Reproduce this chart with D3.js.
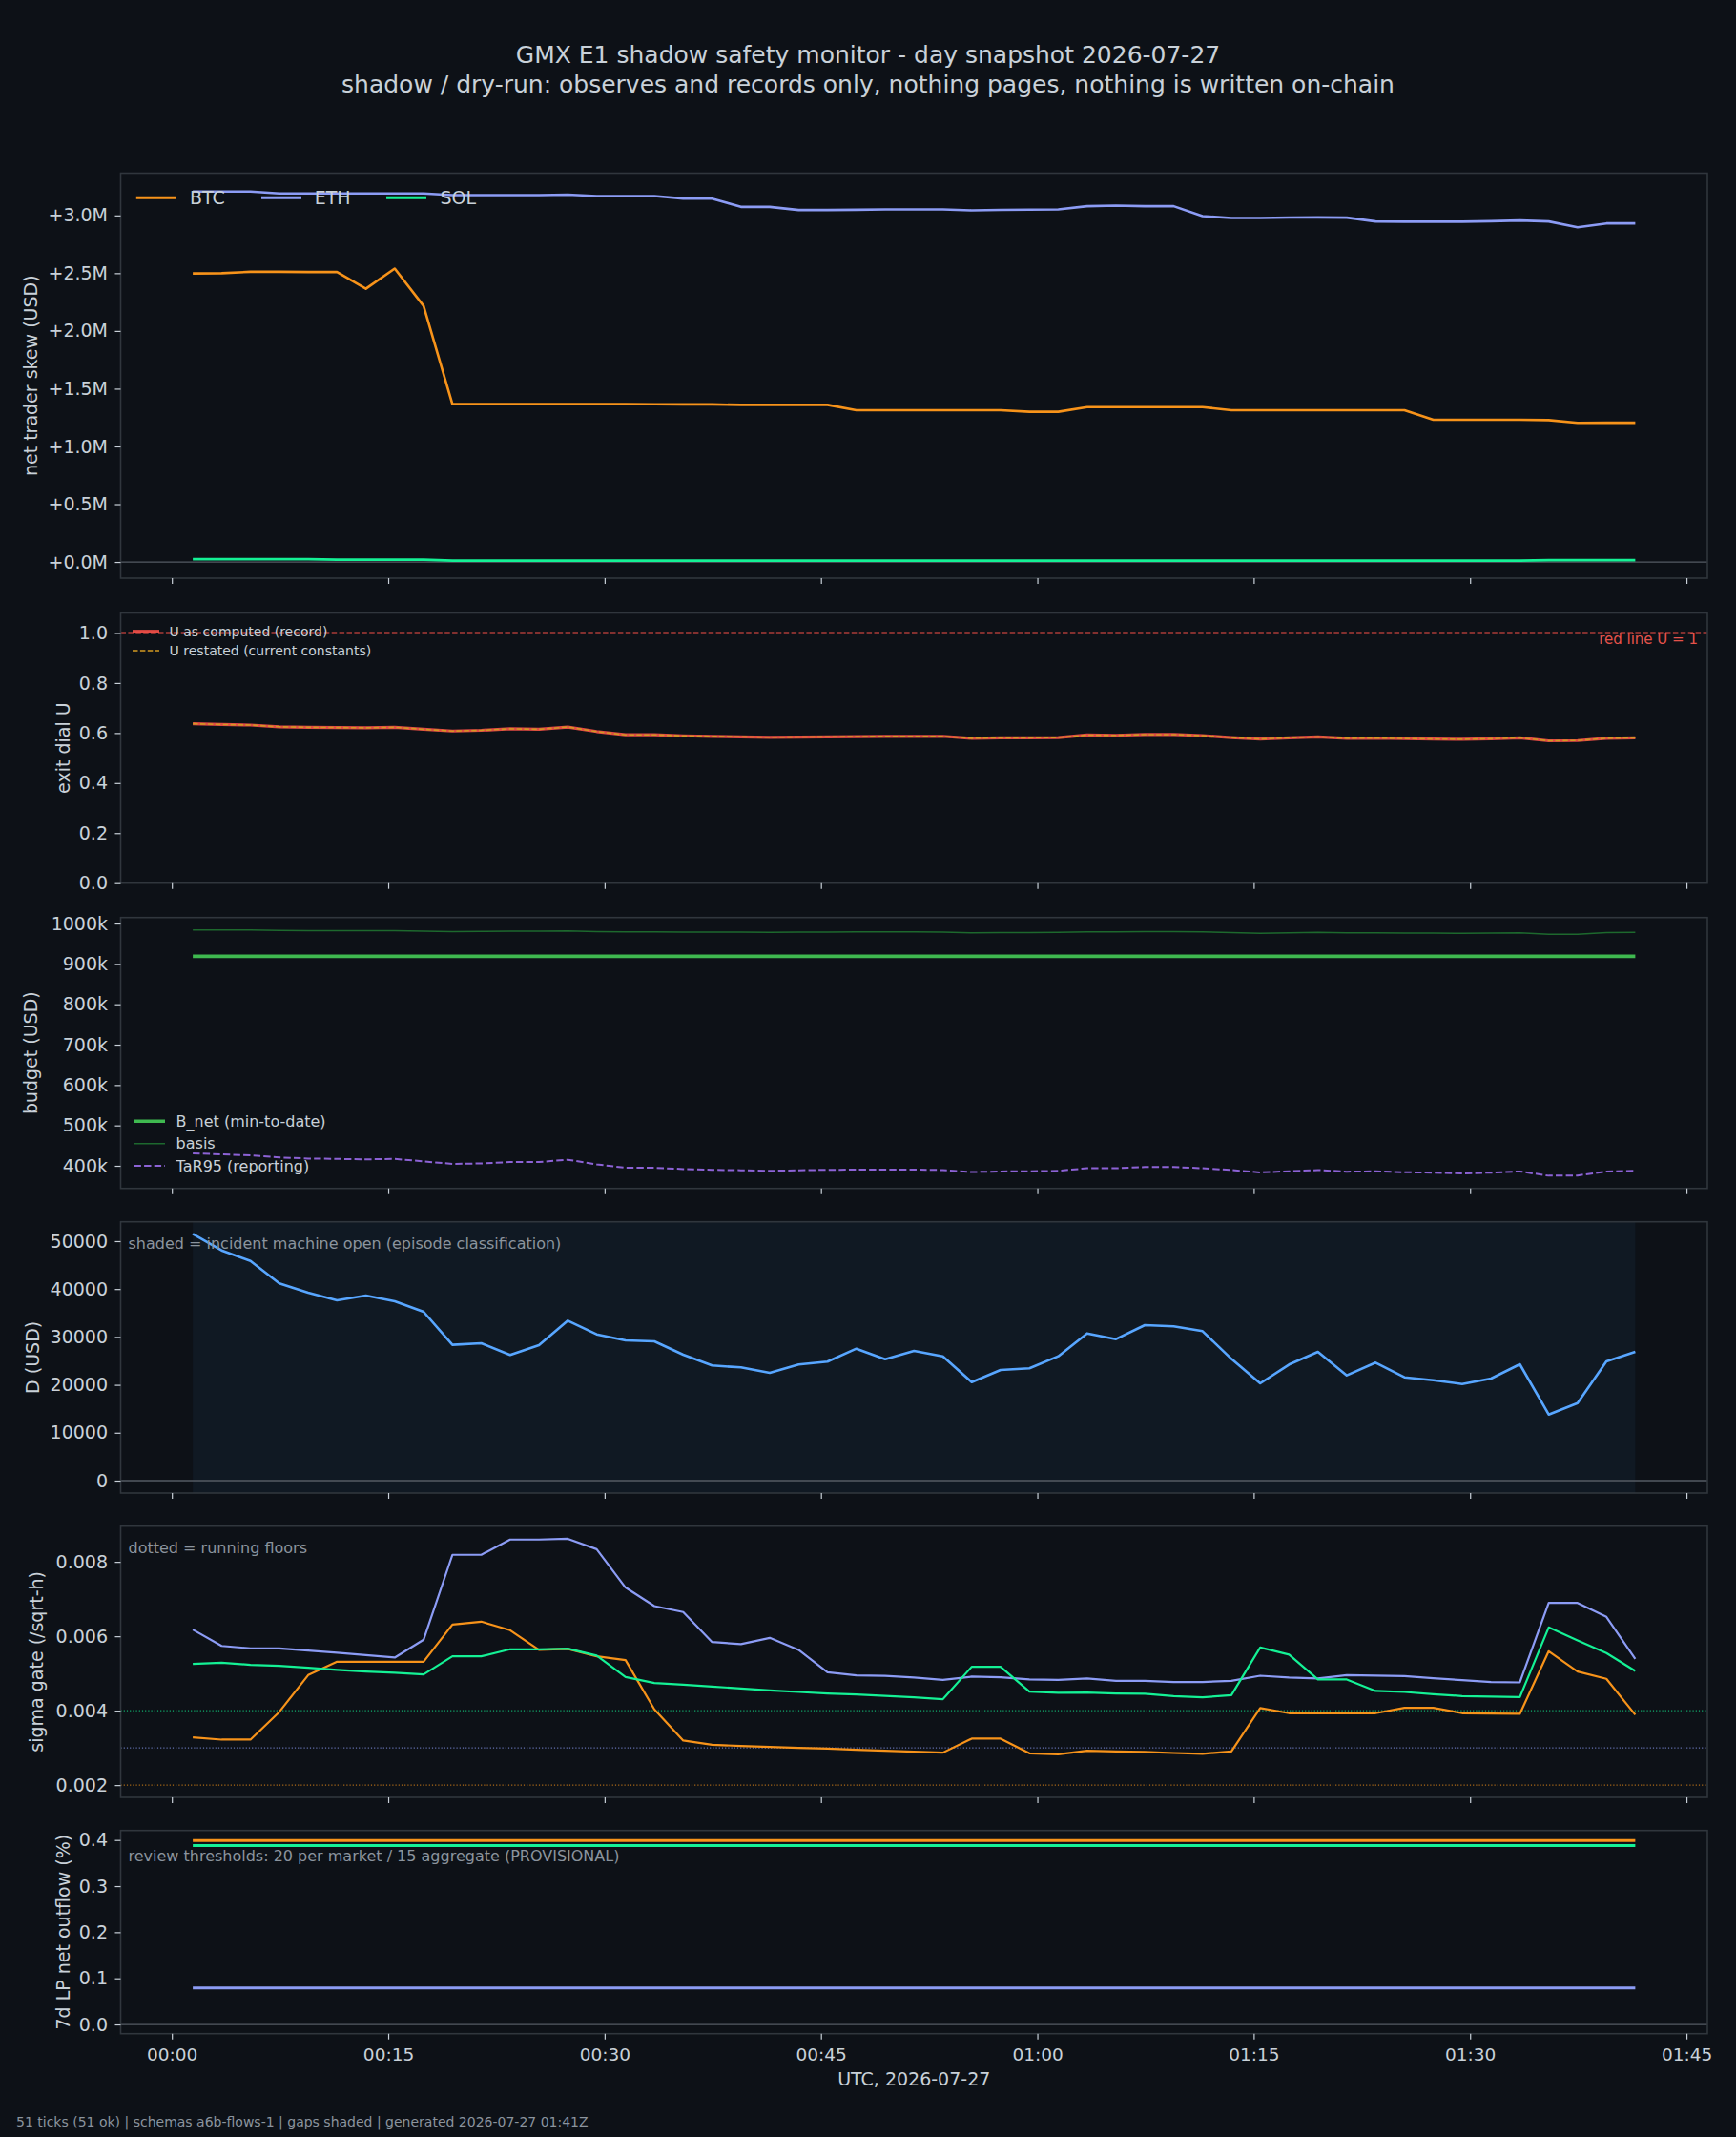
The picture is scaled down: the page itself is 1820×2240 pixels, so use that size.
<!DOCTYPE html>
<html>
<head>
<meta charset="utf-8">
<script src="https://cdn.jsdelivr.net/npm/d3@7"></script>
<style>
  body { margin: 0; background: #0d1117; }
  svg text { font-family: "DejaVu Sans", sans-serif; }
</style>
</head>
<body>
<svg id="chart"></svg>
<script>
// ---- data (51 ticks, 2026-07-27 UTC) ----
const tickTimes = [
  "00:01:27","00:03:27","00:05:27","00:07:27","00:09:27","00:11:27","00:13:27","00:15:27","00:17:27","00:19:27",
  "00:21:27","00:23:27","00:25:27","00:27:27","00:29:27","00:31:27","00:33:27","00:35:27","00:37:27","00:39:27",
  "00:41:27","00:43:27","00:45:27","00:47:27","00:49:27","00:51:27","00:53:27","00:55:27","00:57:27","00:59:27",
  "01:01:27","01:03:27","01:05:27","01:07:27","01:09:27","01:11:27","01:13:27","01:15:27","01:17:27","01:19:27",
  "01:21:27","01:23:27","01:25:27","01:27:27","01:29:27","01:31:27","01:33:27","01:35:27","01:37:27","01:39:27",
  "01:41:27"
];

// net trader skew, USD millions
const skewBTC = [
  2.498, 2.500, 2.512, 2.512, 2.510, 2.510, 2.366, 2.540, 2.217, 1.366,
  1.366, 1.366, 1.366, 1.367, 1.366, 1.366, 1.365, 1.364, 1.364, 1.360,
  1.360, 1.360, 1.360, 1.314, 1.314, 1.314, 1.314, 1.314, 1.314, 1.300,
  1.300, 1.341, 1.341, 1.341, 1.341, 1.341, 1.314, 1.314, 1.314, 1.314,
  1.314, 1.314, 1.314, 1.231, 1.231, 1.231, 1.231, 1.228, 1.204, 1.205,
  1.205
];
const skewETH = [
  3.207, 3.207, 3.207, 3.190, 3.190, 3.190, 3.190, 3.190, 3.190, 3.176,
  3.176, 3.176, 3.176, 3.180, 3.168, 3.168, 3.168, 3.146, 3.146, 3.074,
  3.074, 3.047, 3.047, 3.049, 3.052, 3.052, 3.052, 3.044, 3.048, 3.050,
  3.052, 3.080, 3.085, 3.080, 3.080, 2.994, 2.978, 2.978, 2.982, 2.983,
  2.981, 2.948, 2.946, 2.946, 2.946, 2.950, 2.956, 2.948, 2.898, 2.931,
  2.931
];
const skewSOL = [
  0.024, 0.024, 0.024, 0.024, 0.024, 0.020, 0.020, 0.020, 0.020, 0.012,
  0.012, 0.012, 0.012, 0.012, 0.012, 0.012, 0.012, 0.012, 0.012, 0.012,
  0.012, 0.012, 0.012, 0.012, 0.012, 0.012, 0.012, 0.012, 0.012, 0.012,
  0.012, 0.012, 0.012, 0.012, 0.012, 0.012, 0.012, 0.012, 0.012, 0.012,
  0.012, 0.012, 0.012, 0.012, 0.012, 0.012, 0.012, 0.016, 0.016, 0.016,
  0.016
];
const skewTicks = [0, 0.5, 1.0, 1.5, 2.0, 2.5, 3.0];

// exit dial U (record == restated)
const exitDialU = [
  0.637, 0.634, 0.632, 0.625, 0.623, 0.622, 0.621, 0.623, 0.615, 0.608,
  0.611, 0.617, 0.615, 0.624, 0.606, 0.593, 0.593, 0.589, 0.587, 0.585,
  0.583, 0.584, 0.585, 0.586, 0.587, 0.587, 0.587, 0.579, 0.581, 0.581,
  0.582, 0.592, 0.591, 0.594, 0.594, 0.590, 0.582, 0.576, 0.581, 0.585,
  0.579, 0.580, 0.578, 0.576, 0.575, 0.577, 0.581, 0.569, 0.570, 0.579,
  0.581
];
const redLineU = 1.0;
const uTicks = [0, 0.2, 0.4, 0.6, 0.8, 1.0];

// budget, USD thousands
const bNetMinToDate = 919;
const budgetBasis = [
  984.2, 984.2, 984.0, 983.0, 982.6, 982.4, 982.2, 982.4, 981.5, 980.2,
  980.4, 981.0, 981.0, 982.0, 980.0, 979.4, 979.4, 979.0, 978.8, 978.6,
  978.4, 978.6, 978.8, 979.2, 979.2, 979.2, 979.0, 976.8, 977.4, 977.6,
  978.0, 979.4, 979.4, 979.8, 979.8, 979.2, 977.8, 975.8, 977.0, 978.0,
  976.8, 977.2, 976.6, 976.2, 975.8, 976.4, 977.2, 973.6, 973.8, 977.8,
  978.4
];
const tar95 = [
  430.7, 428.3, 426.0, 420.5, 418.0, 417.0, 416.0, 417.0, 411.0, 404.7,
  406.0, 409.4, 409.4, 415.0, 403.5, 395.0, 395.0, 392.0, 390.0, 389.0,
  387.5, 389.0, 390.0, 390.5, 390.5, 390.5, 389.5, 384.5, 386.0, 386.5,
  387.5, 394.0, 394.0, 397.0, 397.0, 394.0, 389.5, 383.5, 386.5, 389.5,
  385.5, 386.5, 384.0, 383.0, 381.0, 383.0, 386.0, 375.5, 376.0, 386.0,
  387.5
];
const budgetTicks = [400, 500, 600, 700, 800, 900, 1000];

// D, USD
const dUsd = [
  51530, 48070, 45880, 41170, 39240, 37650, 38650, 37450, 35260, 28350,
  28690, 26230, 28290, 33400, 30540, 29280, 29080, 26300, 24040, 23640,
  22510, 24240, 24840, 27550, 25360, 27090, 25960, 20580, 23110, 23440,
  25960, 30740, 29540, 32470, 32210, 31210, 25430, 20320, 24240, 26890,
  21980, 24640, 21570, 20980, 20180, 21310, 24300, 13800, 16200, 24900,
  26890
];
const incidentOpen = ["00:01:27", "01:41:27"];
const dTicks = [0, 10000, 20000, 30000, 40000, 50000];

// sigma gate, /sqrt-h
const sigmaBTC = [
  0.003282, 0.003222, 0.003222, 0.003967, 0.004957, 0.005316, 0.005316, 0.005316, 0.005316, 0.006316,
  0.006393, 0.006162, 0.005633, 0.005659, 0.005462, 0.005359, 0.004034, 0.003197, 0.003085, 0.003051,
  0.003026, 0.003000, 0.002983, 0.002949, 0.002925, 0.002897, 0.002872, 0.003249, 0.003249, 0.002855,
  0.002829, 0.002923, 0.002906, 0.002889, 0.002863, 0.002838, 0.002906, 0.004069, 0.003932, 0.003932,
  0.003932, 0.003932, 0.004077, 0.004077, 0.003932, 0.003923, 0.003915, 0.005598, 0.005051, 0.004855,
  0.003890
];
const sigmaETH = [
  0.006180, 0.005740, 0.005675, 0.005675, 0.005615, 0.005556, 0.005495, 0.005428, 0.005906, 0.008190,
  0.008190, 0.008600, 0.008600, 0.008620, 0.008340, 0.007310, 0.006810, 0.006650, 0.005846, 0.005787,
  0.005957, 0.005633, 0.005034, 0.004949, 0.004935, 0.004890, 0.004829, 0.004915, 0.004900, 0.004838,
  0.004829, 0.004864, 0.004803, 0.004803, 0.004770, 0.004770, 0.004803, 0.004940, 0.004890, 0.004864,
  0.004957, 0.004940, 0.004932, 0.004872, 0.004821, 0.004770, 0.004760, 0.006897, 0.006897, 0.006521,
  0.005393
];
const sigmaSOL = [
  0.005256, 0.005290, 0.005231, 0.005205, 0.005154, 0.005094, 0.005051, 0.005017, 0.004974, 0.005462,
  0.005462, 0.005650, 0.005650, 0.005667, 0.005480, 0.004906, 0.004744, 0.004700, 0.004649, 0.004597,
  0.004546, 0.004504, 0.004462, 0.004436, 0.004400, 0.004359, 0.004308, 0.005180, 0.005180, 0.004513,
  0.004480, 0.004487, 0.004462, 0.004453, 0.004393, 0.004359, 0.004418, 0.005700, 0.005505, 0.004838,
  0.004838, 0.004531, 0.004504, 0.004444, 0.004393, 0.004376, 0.004367, 0.006239, 0.005890, 0.005547,
  0.005069
];
const sigmaFloorBTC = 0.002;
const sigmaFloorETH = 0.003;
const sigmaFloorSOL = 0.004;
const sigmaTicks = [0.002, 0.004, 0.006, 0.008];

// 7d LP net outflow, %
const lpOutflowBTC = 0.399;
const lpOutflowSOL = 0.388;
const lpOutflowETH = 0.079;
const lpTicks = [0, 0.1, 0.2, 0.3, 0.4];

// ---- look ----
const W = 1820, H = 2240;
const left = 126.5, right = 1790;
const figBg = "#0d1117";
const axesBg = "#0d1117";
const spineColor = "#30363d";
const textColor = "#c9d1d9";
const mutedColor = "#8b949e";
const zeroColor = "#545b64";
const cBTC = "#f7931a", cETH = "#8c9cf5", cSOL = "#14f195";

const svg = d3.select("#chart").attr("width", W).attr("height", H);
svg.append("rect").attr("width", W).attr("height", H).attr("fill", figBg);

const parse = d3.utcParse("%Y-%m-%d %H:%M:%S");
const times = tickTimes.map(t => parse("2026-07-27 " + t));
const x = d3.scaleUtc()
  .domain([parse("2026-07-26 23:56:27"), parse("2026-07-27 01:46:27")])
  .range([left, right]);

// title
svg.append("text").attr("x", W / 2).attr("y", 66).attr("text-anchor", "middle")
  .attr("fill", textColor).attr("font-size", 25)
  .text("GMX E1 shadow safety monitor - day snapshot 2026-07-27");
svg.append("text").attr("x", W / 2).attr("y", 97).attr("text-anchor", "middle")
  .attr("fill", textColor).attr("font-size", 25)
  .text("shadow / dry-run: observes and records only, nothing pages, nothing is written on-chain");

let clipId = 0;
function makePanel(cfg) {
  const y = d3.scaleLinear().domain(cfg.domain).range([cfg.bottom, cfg.top]);
  const g = svg.append("g");
  g.append("rect").attr("x", left).attr("y", cfg.top)
    .attr("width", right - left).attr("height", cfg.bottom - cfg.top).attr("fill", axesBg);
  const id = "clip" + (clipId++);
  svg.append("clipPath").attr("id", id).append("rect")
    .attr("x", left).attr("y", cfg.top).attr("width", right - left).attr("height", cfg.bottom - cfg.top);
  const plot = g.append("g").attr("clip-path", `url(#${id})`);
  const over = svg.append("g"); // drawn later, on top
  return { y, plot, over, cfg };
}

function finishPanel(p, showX) {
  const { y, cfg } = p;
  const frame = svg.append("g");
  frame.append("rect").attr("x", left).attr("y", cfg.top)
    .attr("width", right - left).attr("height", cfg.bottom - cfg.top)
    .attr("fill", "none").attr("stroke", spineColor).attr("stroke-width", 1.6);

  const ya = frame.append("g").attr("transform", `translate(${left},0)`)
    .call(d3.axisLeft(y).tickValues(cfg.ticks).tickFormat(cfg.fmt).tickSize(6).tickPadding(7.5));
  ya.select(".domain").remove();
  ya.selectAll("line").attr("stroke", textColor).attr("stroke-width", 1.2);
  ya.selectAll("text").attr("fill", textColor).attr("font-size", 19)
    .attr("font-family", "DejaVu Sans");

  const xa = frame.append("g").attr("transform", `translate(0,${cfg.bottom})`)
    .call(d3.axisBottom(x).ticks(d3.utcMinute.every(15)).tickFormat(d3.utcFormat("%H:%M"))
      .tickSize(6).tickPadding(9.5));
  xa.select(".domain").remove();
  xa.selectAll("line").attr("stroke", textColor).attr("stroke-width", 1.2);
  xa.selectAll("text").attr("fill", textColor).attr("font-size", 18.5)
    .attr("font-family", "DejaVu Sans");
  if (!showX) xa.selectAll("text").remove();

  frame.append("text")
    .attr("transform", `translate(${cfg.labelX},${(cfg.top + cfg.bottom) / 2}) rotate(-90)`)
    .attr("text-anchor", "middle").attr("fill", textColor).attr("font-size", 19)
    .text(cfg.label);
  return frame;
}

function line(p, values, color, width, dash, opacity) {
  const gen = d3.line().x((d, i) => x(times[i])).y(d => p.y(d));
  p.plot.append("path").datum(values).attr("d", gen)
    .attr("fill", "none").attr("stroke", color).attr("stroke-width", width)
    .attr("stroke-dasharray", dash || null).attr("stroke-linejoin", "round")
    .attr("opacity", opacity == null ? 1 : opacity);
}
function flat(p, value, color, width, dash, opacity, full) {
  const x0 = full ? left : x(times[0]);
  const x1 = full ? right : x(times[times.length - 1]);
  p.plot.append("line").attr("x1", x0).attr("x2", x1)
    .attr("y1", p.y(value)).attr("y2", p.y(value))
    .attr("stroke", color).attr("stroke-width", width)
    .attr("stroke-dasharray", dash || null).attr("opacity", opacity == null ? 1 : opacity);
}
function legendItem(g, x0, yc, len, textX, label, color, width, dash, size, opacity) {
  g.append("line").attr("x1", x0).attr("x2", x0 + len).attr("y1", yc).attr("y2", yc)
    .attr("stroke", color).attr("stroke-width", width).attr("stroke-dasharray", dash || null)
    .attr("opacity", opacity == null ? 1 : opacity);
  g.append("text").attr("x", textX).attr("y", yc).attr("dy", "0.35em")
    .attr("fill", textColor).attr("font-size", size).text(label);
}
function note(p, dx, yTop, label, size) {
  p.over.append("text").attr("x", left + dx).attr("y", yTop).attr("dy", "0.76em")
    .attr("fill", mutedColor).attr("font-size", size).text(label);
}

// ---- panel 1: net trader skew ----
const p1 = makePanel({ top: 181.5, bottom: 606, domain: [-0.14, 3.366], ticks: skewTicks,
  fmt: d => "+" + d3.format(".1f")(d) + "M", label: "net trader skew (USD)", labelX: 38.5 });
flat(p1, 0, zeroColor, 1.3, null, 1, true);
line(p1, skewBTC, cBTC, 2.6);
line(p1, skewETH, cETH, 2.6);
line(p1, skewSOL, cSOL, 2.6);
finishPanel(p1, false);
legendItem(svg, 142.8, 207.3, 42, 199, "BTC", cBTC, 3, null, 19);
legendItem(svg, 274, 207.3, 42, 329.7, "ETH", cETH, 3, null, 19);
legendItem(svg, 405, 207.3, 42, 461.4, "SOL", cSOL, 3, null, 19);

// ---- panel 2: exit dial U ----
const p2 = makePanel({ top: 642.5, bottom: 925.7, domain: [0, 1.08], ticks: uTicks,
  fmt: d3.format(".1f"), label: "exit dial U", labelX: 72.5 });
flat(p2, redLineU, "#f85149", 2, "5.5 2.4", 1, true);
line(p2, exitDialU, "#f85149", 3.2, null, 0.9);
line(p2, exitDialU, "#d29922", 1.6, "5.5 2.4");
finishPanel(p2, false);
legendItem(svg, 139, 661.7, 28, 177.6, "U as computed (record)", "#f85149", 3.2, null, 14, 0.9);
legendItem(svg, 139, 682, 28, 177.6, "U restated (current constants)", "#d29922", 1.6, "5.5 2.4", 14);
svg.append("text").attr("x", right - 10).attr("y", 675).attr("text-anchor", "end")
  .attr("fill", "#e5534b").attr("font-size", 15).text("red line U = 1");

// ---- panel 3: budget ----
const p3 = makePanel({ top: 961.7, bottom: 1245.7, domain: [344, 1015], ticks: budgetTicks,
  fmt: d => d + "k", label: "budget (USD)", labelX: 39 });
flat(p3, bNetMinToDate, "#3fb950", 3.6);
line(p3, budgetBasis, "#238636", 1.5, null, 0.75);
line(p3, tar95, "#a371f7", 2, "7.4 3.2", 0.85);
finishPanel(p3, false);
legendItem(svg, 140.5, 1175.3, 32.5, 184.6, "B_net (min-to-date)", "#3fb950", 3.6, null, 16);
legendItem(svg, 140.5, 1198.7, 32.5, 184.6, "basis", "#238636", 1.5, null, 16, 0.75);
legendItem(svg, 140.5, 1222, 32.5, 184.6, "TaR95 (reporting)", "#a371f7", 2, "7.4 3.2", 16, 0.85);

// ---- panel 4: D ----
const p4 = makePanel({ top: 1280.7, bottom: 1565, domain: [-2590, 54040], ticks: dTicks,
  fmt: d3.format("d"), label: "D (USD)", labelX: 41 });
const shadeX0 = x(parse("2026-07-27 " + incidentOpen[0]));
const shadeX1 = x(parse("2026-07-27 " + incidentOpen[1]));
p4.plot.append("rect").attr("x", shadeX0).attr("y", 1280.7)
  .attr("width", shadeX1 - shadeX0).attr("height", 1565 - 1280.7).attr("fill", "#101923");
flat(p4, 0, zeroColor, 1.3, null, 1, true);
line(p4, dUsd, "#58a6ff", 2.6);
note(p4, 8, 1297, "shaded = incident machine open (episode classification)", 16);
finishPanel(p4, false);

// ---- panel 5: sigma gate ----
const p5 = makePanel({ top: 1599.7, bottom: 1884, domain: [0.00167, 0.00896], ticks: sigmaTicks,
  fmt: d3.format(".3f"), label: "sigma gate (/sqrt-h)", labelX: 45 });
flat(p5, sigmaFloorSOL, cSOL, 1.2, "1.2 2", 0.7, true);
flat(p5, sigmaFloorETH, cETH, 1.2, "1.2 2", 0.7, true);
flat(p5, sigmaFloorBTC, cBTC, 1.2, "1.2 2", 0.7, true);
line(p5, sigmaBTC, cBTC, 2.2);
line(p5, sigmaETH, cETH, 2.2);
line(p5, sigmaSOL, cSOL, 2.2);
note(p5, 8, 1616, "dotted = running floors", 16);
finishPanel(p5, false);

// ---- panel 6: 7d LP net outflow ----
const p6 = makePanel({ top: 1918.7, bottom: 2131.7, domain: [-0.02, 0.4207], ticks: lpTicks,
  fmt: d3.format(".1f"), label: "7d LP net outflow (%)", labelX: 73 });
flat(p6, 0, zeroColor, 1.3, null, 1, true);
flat(p6, lpOutflowBTC, cBTC, 3);
flat(p6, lpOutflowSOL, cSOL, 3);
flat(p6, lpOutflowETH, cETH, 3);
note(p6, 8, 1939, "review thresholds: 20 per market / 15 aggregate (PROVISIONAL)", 16);
finishPanel(p6, true);

svg.append("text").attr("x", (left + right) / 2).attr("y", 2186).attr("text-anchor", "middle")
  .attr("fill", textColor).attr("font-size", 19).text("UTC, 2026-07-27");

svg.append("text").attr("x", 17).attr("y", 2229).attr("fill", mutedColor).attr("font-size", 14)
  .text("51 ticks (51 ok) | schemas a6b-flows-1 | gaps shaded | generated 2026-07-27 01:41Z");
</script>
</body>
</html>
